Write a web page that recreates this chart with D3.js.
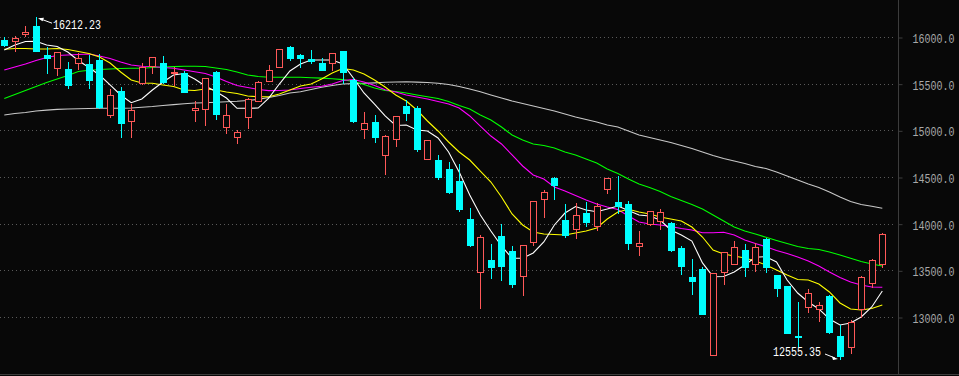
<!DOCTYPE html>
<html>
<head>
<meta charset="utf-8">
<script src="https://cdn.jsdelivr.net/npm/d3@7"></script>
<style>
  html, body { margin: 0; padding: 0; background: #080808; overflow: hidden; }
</style>
</head>
<body>
<div id="chart"></div>
<script>
// daily candles (84 sessions)
const opens = [15968, 15960, 16032, 16118, 15807, 15673, 15657, 15718, 15711, 15754,
  15164, 15425, 15103, 15507, 15684, 15725, 15618, 15614, 15215, 15225,
  15625, 15033, 14925, 15140, 15314, 15532, 15682, 15893, 15802, 15761,
  15721, 15725, 15850, 15543, 15018, 15089, 14739, 14910, 15261, 15243,
  14696, 14682, 14586, 14457, 14050, 13479, 13611, 13868, 13710, 13436,
  13807, 14268, 14489, 14039, 13946, 14118, 13975, 14368, 14232, 14211,
  13764, 13996, 14032, 14004, 13739, 13429, 13514, 12590, 13477, 13565,
  13718, 13565, 13833, 13447, 13332, 12800, 13110, 13089, 13225, 12796,
  12682, 13089, 13361, 13565]
const highs = [15997, 16011, 16118, 16212.23, 15888, 15839, 15730, 15825, 15807, 15821,
  15443, 15461, 15282, 15725, 15786, 15796, 15682, 15636, 15314, 15561,
  15633, 15282, 15004, 15346, 15532, 15700, 15871, 15904, 15818, 15861,
  15772, 15829, 15853, 15558, 15199, 15164, 14952, 15157, 15322, 15261,
  14900, 14736, 14658, 14639, 14168, 13879, 13782, 13996, 13758, 13771,
  14243, 14361, 14497, 14211, 14218, 14235, 14218, 14493, 14511, 14243,
  13921, 14136, 14157, 14021, 13761, 13621, 13533, 13471, 13696, 13814,
  13779, 13796, 13843, 13450, 13335, 13161, 13297, 13158, 13233, 12914,
  12968, 13434, 13618, 13897]
const lows = [15907, 15853, 16014, 15850, 15611, 15593, 15457, 15652, 15457, 15239,
  15140, 14932, 14932, 15496, 15618, 15504, 15486, 15411, 15103, 15057,
  15125, 14968, 14861, 15020, 15309, 15529, 15679, 15754, 15682, 15718,
  15646, 15646, 15510, 15089, 14921, 14878, 14532, 14832, 15111, 14779,
  14693, 14479, 14329, 14136, 13761, 13100, 13418, 13400, 13325, 13236,
  13771, 14075, 14268, 13854, 13850, 13975, 13932, 14332, 14111, 13732,
  13664, 13983, 13940, 13710, 13464, 13246, 13032, 12588, 13354, 13563,
  13443, 13496, 13479, 13228, 12829, 12686, 13054, 12954, 12832, 12555.35,
  12618, 12997, 13319, 13539]
const closes = [15914, 15986, 16054, 15853, 15780, 15836, 15486, 15772, 15539, 15250,
  15379, 15082, 15218, 15675, 15783, 15521, 15630, 15414, 15236, 15558,
  15178, 15161, 14979, 15333, 15518, 15643, 15868, 15775, 15770, 15740,
  15646, 15825, 15628, 15100, 15075, 14929, 14939, 15154, 15186, 14800,
  14896, 14503, 14336, 14157, 13771, 13854, 13539, 13550, 13357, 13768,
  14240, 14336, 14418, 13875, 14090, 14018, 14189, 14489, 14189, 13796,
  13790, 14133, 14122, 13721, 13550, 13389, 13035, 13468, 13693, 13747,
  13539, 13747, 13539, 13314, 12832, 12789, 13254, 13125, 12839, 12582,
  12946, 13432, 13608, 13886]

// moving averages (values read at each candle)
const ma5 = [15861, 15914, 15952, 15954, 15914, 15898, 15839, 15748, 15673, 15593,
  15486, 15379, 15296, 15336, 15432, 15518, 15593, 15609, 15550, 15475,
  15416, 15346, 15236, 15236, 15239, 15346, 15496, 15636, 15711, 15754,
  15754, 15754, 15711, 15561, 15400, 15282, 15154, 15052, 15057, 15004,
  14993, 14918, 14768, 14554, 14307, 14093, 13921, 13761, 13629, 13629,
  13686, 13804, 13986, 14114, 14184, 14146, 14128, 14157, 14189, 14141,
  14093, 14082, 14039, 13932, 13879, 13814, 13579, 13432, 13434, 13482,
  13557, 13640, 13646, 13589, 13396, 13257, 13161, 13086, 12979, 12914,
  12936, 13000, 13107, 13279]
const ma10 = [15869, 15876, 15877, 15871, 15871, 15877, 15866, 15845, 15823, 15786,
  15721, 15625, 15539, 15507, 15504, 15486, 15470, 15432, 15427, 15443,
  15432, 15411, 15395, 15368, 15360, 15360, 15389, 15432, 15475, 15496,
  15550, 15614, 15663, 15646, 15604, 15539, 15464, 15379, 15314, 15218,
  15100, 14993, 14875, 14768, 14682, 14564, 14446, 14286, 14104, 13986,
  13911, 13889, 13884, 13879, 13900, 13921, 13954, 14050, 14125, 14154,
  14125, 14104, 14071, 14050, 14029, 13964, 13857, 13718, 13675, 13654,
  13632, 13600, 13557, 13504, 13450, 13402, 13396, 13354, 13268, 13150,
  13086, 13075, 13091, 13129]
const ma20 = [15646, 15679, 15711, 15748, 15780, 15802, 15807, 15813, 15818, 15796,
  15770, 15732, 15700, 15687, 15684, 15673, 15665, 15646, 15628, 15609,
  15571, 15523, 15480, 15459, 15438, 15425, 15427, 15432, 15448, 15461,
  15472, 15496, 15534, 15545, 15518, 15480, 15435, 15411, 15379, 15357,
  15336, 15309, 15282, 15239, 15154, 15046, 14939, 14854, 14736, 14618,
  14521, 14479, 14393, 14350, 14302, 14254, 14211, 14179, 14152, 14082,
  14018, 13996, 13986, 13970, 13948, 13932, 13903, 13903, 13908, 13879,
  13825, 13788, 13753, 13713, 13680, 13643, 13600, 13546, 13482, 13423,
  13375, 13343, 13321, 13318]
const ma30 = [15341, 15384, 15427, 15470, 15513, 15550, 15588, 15630, 15643, 15652,
  15657, 15663, 15665, 15665, 15673, 15679, 15683, 15687, 15687, 15684,
  15668, 15652, 15625, 15593, 15577, 15568, 15568, 15568, 15568, 15564,
  15559, 15552, 15543, 15523, 15491, 15454, 15427, 15416, 15400, 15379,
  15360, 15341, 15309, 15266, 15229, 15164, 15111, 15036, 14950, 14896,
  14854, 14838, 14811, 14768, 14736, 14693, 14650, 14586, 14538, 14479,
  14425, 14388, 14345, 14291, 14248, 14205, 14157, 14093, 14029, 13964,
  13921, 13889, 13854, 13820, 13788, 13755, 13734, 13723, 13696, 13664,
  13629, 13595, 13568, 13546]
const ma60 = [15164, 15180, 15191, 15207, 15216, 15225, 15229, 15232, 15234, 15236,
  15236, 15236, 15239, 15248, 15255, 15266, 15275, 15285, 15293, 15296,
  15301, 15307, 15311, 15320, 15332, 15352, 15373, 15400, 15414, 15438,
  15461, 15480, 15496, 15500, 15505, 15509, 15515, 15518, 15520, 15516,
  15513, 15505, 15491, 15470, 15443, 15414, 15379, 15346, 15314, 15288,
  15261, 15234, 15207, 15175, 15143, 15116, 15089, 15057, 15036, 14993,
  14950, 14923, 14896, 14870, 14838, 14805, 14768, 14730, 14698, 14671,
  14645, 14613, 14591, 14554, 14511, 14468, 14425, 14388, 14339, 14286,
  14238, 14205, 14186, 14165]

const priceTicks = [13000, 13500, 14000, 14500, 15000, 15500, 16000]

const width = 959
const height = 376
const axisX = 898
const bottomY = 374
const bg = '#080808'
const upColor = '#ff5858'
const downColor = '#00ffff'
const monoFont = 'Liberation Mono, DejaVu Sans Mono, monospace'
const maLines = [
  { values: ma60, color: '#c8c8c8' },
  { values: ma30, color: '#00ff00' },
  { values: ma20, color: '#ff00ff' },
  { values: ma10, color: '#ffff00' },
  { values: ma5, color: '#ffffff' }
]

const svg = d3.select('#chart')
  .append('svg')
  .attr('width', width)
  .attr('height', height)
  .style('display', 'block')
  .style('background', bg)

const x = d3.scaleBand()
  .domain(d3.range(closes.length))
  .range([-1, 887.6])
  .padding(0)

const y = d3.scaleLinear()
  .domain([13000, 16000])
  .range([317, 37])

const cx = i => Math.round(x(i) + x.bandwidth() / 2)
const py = v => Math.round(y(v))

// dotted grid lines
svg.append('g')
  .selectAll('line')
  .data(priceTicks)
  .enter()
  .append('line')
  .attr('x1', 0)
  .attr('x2', axisX - 2)
  .attr('y1', d => py(d) + 0.5)
  .attr('y2', d => py(d) + 0.5)
  .attr('stroke', '#5a5a5a')
  .attr('stroke-dasharray', '1,3')

// frame lines
svg.append('line')
  .attr('x1', axisX + 0.5).attr('x2', axisX + 0.5)
  .attr('y1', 0).attr('y2', bottomY)
  .attr('stroke', '#3c3c3c')
svg.append('line')
  .attr('x1', 0).attr('x2', width)
  .attr('y1', bottomY + 0.5).attr('y2', bottomY + 0.5)
  .attr('stroke', '#3c3c3c')

// right price axis
const gAxis = svg.append('g')
  .attr('transform', `translate(${axisX + 0.5},0.5)`)
  .call(d3.axisRight(y).tickValues(priceTicks).tickFormat(d3.format('.1f')).tickSize(4).tickPadding(10))
gAxis.select('.domain').remove()
gAxis.selectAll('.tick line').attr('stroke', '#3c3c3c')
gAxis.selectAll('.tick text')
  .attr('fill', '#a8a8a8')
  .attr('font-family', monoFont)
  .attr('font-size', 10)
  .attr('dy', '0.36em')
  .attr('transform', 'scale(1,1.35)')

// moving average lines
const line = d3.line()
  .x((d, i) => x(i) + x.bandwidth() / 2)
  .y(d => y(d))

svg.append('g')
  .selectAll('path')
  .data(maLines)
  .enter()
  .append('path')
  .attr('d', d => line(d.values))
  .attr('fill', 'none')
  .attr('stroke', d => d.color)
  .attr('stroke-width', 1.1)

// candles
const candles = closes.map((c, i) => ({ i, o: opens[i], h: highs[i], l: lows[i], c }))
const gCandle = svg.append('g').attr('shape-rendering', 'crispEdges')

gCandle.selectAll('.wick')
  .data(candles)
  .enter()
  .append('line')
  .attr('class', 'wick')
  .attr('x1', d => cx(d.i) + 0.5)
  .attr('x2', d => cx(d.i) + 0.5)
  .attr('y1', d => py(d.h))
  .attr('y2', d => py(d.l) + 1)
  .attr('stroke', d => d.c >= d.o ? upColor : downColor)

gCandle.selectAll('.body')
  .data(candles)
  .enter()
  .append('rect')
  .attr('class', 'body')
  .attr('x', d => d.c >= d.o ? cx(d.i) - 3 + 0.5 : cx(d.i) - 3)
  .attr('y', d => d.c >= d.o ? py(d.c) + 0.5 : py(d.o))
  .attr('width', d => d.c >= d.o ? 6 : 7)
  .attr('height', d => d.c >= d.o ? Math.max(1, py(d.o) - py(d.c)) : Math.max(1, py(d.c) - py(d.o) + 1))
  .attr('fill', d => d.c >= d.o ? bg : downColor)
  .attr('stroke', d => d.c >= d.o ? upColor : 'none')

// high / low annotations
const hiIdx = d3.maxIndex(highs)
const loIdx = d3.minIndex(lows)
const gNote = svg.append('g')

const hx = cx(hiIdx), hy = y(highs[hiIdx])
gNote.append('line')
  .attr('x1', hx + 16).attr('y1', hy + 6)
  .attr('x2', hx + 4).attr('y2', hy + 1.5)
  .attr('stroke', '#ffffff')
gNote.append('path')
  .attr('d', `M${hx + 2},${hy + 1} L${hx + 8},${hy + 0.5} L${hx + 6.5},${hy + 4} Z`)
  .attr('fill', '#ffffff')
gNote.append('g')
  .attr('transform', `translate(${hx + 17},${hy + 7}) scale(1,1.35)`)
  .append('text')
  .attr('dy', '0.36em')
  .attr('fill', '#ffffff')
  .attr('font-family', monoFont)
  .attr('font-size', 10)
  .text(highs[hiIdx].toFixed(2))

const lx = cx(loIdx), ly = y(lows[loIdx])
gNote.append('line')
  .attr('x1', lx - 15).attr('y1', ly - 4.5)
  .attr('x2', lx - 5).attr('y2', ly - 0.5)
  .attr('stroke', '#ffffff')
gNote.append('path')
  .attr('d', `M${lx - 2},${ly + 0.5} L${lx - 8},${ly - 2} L${lx - 7},${ly + 1.5} Z`)
  .attr('fill', '#ffffff')
gNote.append('g')
  .attr('transform', `translate(${lx - 19},${ly - 7}) scale(1,1.35)`)
  .append('text')
  .attr('dy', '0.36em')
  .attr('text-anchor', 'end')
  .attr('fill', '#ffffff')
  .attr('font-family', monoFont)
  .attr('font-size', 10)
  .text(lows[loIdx].toFixed(2))
</script>
</body>
</html>
